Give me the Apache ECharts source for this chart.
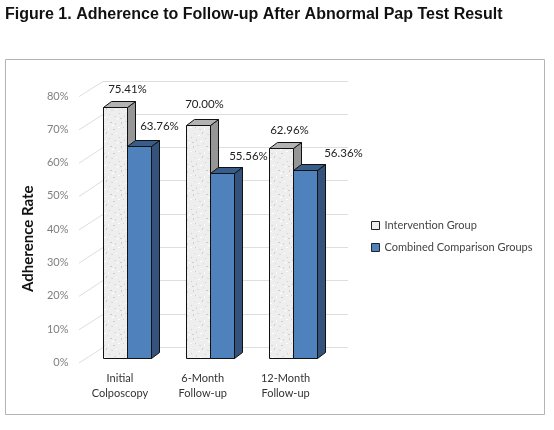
<!DOCTYPE html>
<html><head><meta charset="utf-8">
<style>html,body{margin:0;padding:0;background:#fff}#c{width:554px;height:430px}</style>
<script src="https://cdn.jsdelivr.net/npm/echarts@6/dist/echarts.min.js"></script>
</head><body><div id="c"></div>
<script>
const titleText = 'Figure 1. Adherence to Follow-up After Abnormal Pap Test Result';
const categories = ['Initial\nColposcopy', '6-Month\nFollow-up', '12-Month\nFollow-up'];
const intervention = [75.41, 70.00, 62.96];
const comparison = [63.76, 55.56, 56.36];
const yTicks = [0, 10, 20, 30, 40, 50, 60, 70, 80];

// label displacement from each bar's own centre/top, as placed in the figure
const interventionLabelShift = [[12, -18], [6, -21], [8, -18]];
const comparisonLabelShift = [[20, -20], [26, -17], [38, -17]];

// 3D projection: the axes sit on the front plane; bars stand deeper in the box
const BAR_DEPTH_X = 7, BAR_DEPTH_Y = -4.4, DX = 8, DY = -6, BAR = 24;
const FONT = 'Lato, "Open Sans", sans-serif';

function speckle() {
  const cv = document.createElement('canvas');
  cv.width = 24; cv.height = 24;
  const g = cv.getContext('2d');
  g.fillStyle = '#eeeeee'; g.fillRect(0, 0, 24, 24);
  const dots = [[1,2],[5,1],[9,4],[14,2],[19,3],[22,7],[3,7],[7,9],[12,8],[17,9],[2,13],[6,15],[10,12],[15,14],[20,13],[23,17],[4,19],[8,21],[13,18],[18,20],[21,22],[0,22],[11,23],[16,5]];
  dots.forEach((d, i) => {
    g.fillStyle = i % 3 === 0 ? '#cdcdcd' : (i % 3 === 1 ? '#dadada' : '#ffffff');
    g.fillRect(d[0], d[1], i % 2 ? 2 : 1, i % 4 === 0 ? 2 : 1);
  });
  return cv;
}
const texture = { image: speckle(), repeat: 'repeat' };

function poly(points, fill) {
  return { type: 'polygon', shape: { points }, style: { fill, stroke: '#111', lineWidth: 1 } };
}

function barRenderer(side, front, top, right, shifts) {
  return function (params, api) {
    const c = api.value(0), v = api.value(1);
    const p = api.coord([c, v]), b = api.coord([c, 0]);
    const x0 = Math.round(p[0] + BAR_DEPTH_X + (side < 0 ? -BAR : 0)) + 0.5, x1 = x0 + BAR;
    const y = Math.round(p[1] + BAR_DEPTH_Y) + 0.5, yb = Math.round(b[1] + BAR_DEPTH_Y) + 0.5;
    const s = shifts[params.dataIndex];
    return {
      type: 'group', children: [
        poly([[x1, y], [x1 + DX, y + DY], [x1 + DX, yb + DY], [x1, yb]], right),
        poly([[x0, y], [x0 + DX, y + DY], [x1 + DX, y + DY], [x1, y]], top),
        poly([[x0, y], [x1, y], [x1, yb], [x0, yb]], front),
        { type: 'text', x: (x0 + x1) / 2 + s[0], y: y + s[1], z2: 20,
          style: { text: v.toFixed(2) + '%', font: '11.5px ' + FONT, fill: '#222', align: 'center', verticalAlign: 'middle' } }
      ]
    };
  };
}

function wallRenderer(params, api) {
  const p = api.coord([0, api.value(0)]);
  const cs = params.coordSys;
  const yf = p[1] + 0.6, yb = Math.round(p[1] - 15.4) + 0.5;
  const xl = cs.x + 0.5, xb = cs.x + 24.5, xr = cs.x + cs.width + 21;
  const st = { stroke: '#dedede', lineWidth: 1, fill: null };
  return { type: 'group', children: [
    { type: 'line', shape: { x1: xl, y1: yf, x2: xb, y2: yb }, style: st },
    { type: 'line', shape: { x1: xb, y1: yb, x2: xr, y2: yb }, style: st }
  ] };
}

const chart = echarts.init(document.getElementById('c'), null, { renderer: 'canvas' });
chart.setOption({
  animation: false,
  backgroundColor: '#fff',
  title: { text: titleText, left: 5, top: 7, padding: 0, textStyle: { fontFamily: '"Liberation Sans", Arial, sans-serif', fontSize: 16, fontWeight: 'bold', color: '#111' } },
  graphic: [{ type: 'rect', z: -1, shape: { x: 5.5, y: 59.5, width: 539, height: 355 }, style: { fill: '#fff', stroke: '#b4b4b4', lineWidth: 1 } }],
  grid: { left: 78.5, width: 248.5, top: 96, height: 266.4 },
  legend: {
    orient: 'vertical', left: 366, top: 215, itemWidth: 8, itemHeight: 8, itemGap: 11, icon: 'rect',
    textStyle: { fontFamily: FONT, fontSize: 11, color: '#444' },
    data: [
      { name: 'Intervention Group', itemStyle: { color: '#ededed', borderColor: '#222', borderWidth: 1 } },
      { name: 'Combined Comparison Groups', itemStyle: { color: '#4f81bd', borderColor: '#222', borderWidth: 1 } }
    ]
  },
  xAxis: { type: 'category', data: categories, axisLine: { show: false }, axisTick: { show: false },
    axisLabel: { fontFamily: FONT, fontSize: 11, color: '#333', lineHeight: 15, margin: 8.6, interval: 0 } },
  yAxis: { type: 'value', min: 0, max: 80, interval: 10, splitLine: { show: false }, axisLine: { show: false }, axisTick: { show: false },
    name: 'Adherence Rate', nameLocation: 'middle', nameGap: 43,
    nameTextStyle: { fontFamily: FONT, fontSize: 15, fontWeight: 'bold', color: '#111', padding: [0, 19, 0, 0] },
    axisLabel: { fontFamily: FONT, fontSize: 11, color: '#7f7f7f', margin: 10, formatter: '{value}%' } },
  series: [
    { type: 'custom', name: 'walls', silent: true, z: 1, data: yTicks.map(t => [t]), encode: { y: 0 }, renderItem: wallRenderer },
    { type: 'custom', name: 'Intervention Group', z: 2, data: intervention.map((v, i) => [i, v]), encode: { x: 0, y: 1 },
      renderItem: barRenderer(-1, texture, '#b3b3b3', '#969696', interventionLabelShift) },
    { type: 'custom', name: 'Combined Comparison Groups', z: 3, data: comparison.map((v, i) => [i, v]), encode: { x: 0, y: 1 },
      renderItem: barRenderer(1, '#4f81bd', '#385d8a', '#34527c', comparisonLabelShift) }
  ]
});
</script></body></html>
